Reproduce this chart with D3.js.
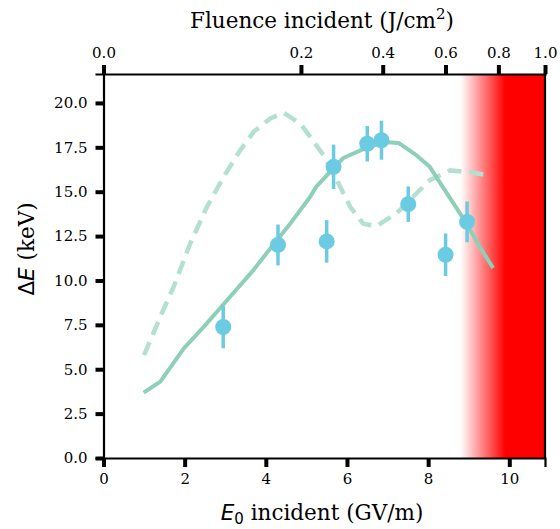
<!DOCTYPE html>
<html>
<head>
<meta charset="utf-8">
<script src="https://cdn.jsdelivr.net/npm/d3@7"></script>
<style>
  html, body { margin: 0; padding: 0; background: #fff; }
  text { font-family: "DejaVu Serif", serif; }
</style>
</head>
<body>
<div id="chart"></div>
<script>
// measured points (E0 in GV/m, deltaE in keV, error in keV)
const measE = [2.95, 4.30, 5.50, 5.67, 6.50, 6.85, 7.51, 8.43, 8.96];
const measDE = [7.38, 12.0, 12.2, 16.4, 17.7, 17.9, 14.3, 11.45, 13.3];
const measErr = [1.2, 1.15, 1.2, 1.25, 1.0, 1.1, 1.0, 1.2, 1.15];

// simulation, solid curve
const simE = [0.99, 1.40, 1.98, 2.47, 3.12, 3.70, 4.11, 4.60, 5.09, 5.25, 5.91, 6.40, 6.90, 7.27, 7.71, 8.04, 8.25, 8.95, 9.27, 9.60];
const simDE = [3.68, 4.30, 6.17, 7.39, 9.08, 10.6, 11.8, 13.2, 14.7, 15.3, 16.9, 17.4, 17.8, 17.75, 17.06, 16.4, 15.65, 13.2, 11.9, 10.7];

// second simulation, dashed curve
const dashE = [1.00, 1.40, 1.73, 2.14, 2.55, 2.96, 3.37, 3.70, 4.11, 4.44, 4.85, 5.09, 5.42, 5.75, 6.08, 6.40, 6.73, 7.22, 7.71, 8.04, 8.54, 9.03, 9.52];
const dashDE = [5.8, 7.96, 9.65, 12.1, 14.15, 15.84, 17.34, 18.37, 19.13, 19.44, 18.84, 18.1, 17.06, 15.65, 14.15, 13.2, 13.06, 13.78, 14.9, 15.65, 16.2, 16.1, 15.9];

const xTicks = [0, 2, 4, 6, 8, 10];
const yTicks = [0, 2.5, 5, 7.5, 10, 12.5, 15, 17.5, 20];
const fluenceTicks = [0, 0.2, 0.4, 0.6, 0.8, 1.0];
const redStart = 8.8, redFull = 9.9;

const width = 560, height = 529;
const margin = { left: 103.5, right: 15, top: 74, bottom: 71 };
const xMax = 10.88, yMax = 21.63;

const x = d3.scaleLinear().domain([0, xMax]).range([margin.left, width - margin.right]);
const y = d3.scaleLinear().domain([0, yMax]).range([height - margin.bottom, margin.top]);
// fluence goes as E0 squared, so the top axis is a square root scale
const xTop = d3.scalePow().exponent(0.5).domain([0, 1]).range([margin.left, width - margin.right]);

const svg = d3.select("#chart").append("svg")
  .attr("width", width).attr("height", height);

const defs = svg.append("defs");
const grad = defs.append("linearGradient")
  .attr("id", "redfade")
  .attr("gradientUnits", "userSpaceOnUse")
  .attr("x1", x(redStart)).attr("x2", x(redFull))
  .attr("y1", 0).attr("y2", 0);
grad.append("stop").attr("offset", "0%").attr("stop-color", "#ff0000").attr("stop-opacity", 0);
grad.append("stop").attr("offset", "100%").attr("stop-color", "#ff0000").attr("stop-opacity", 1);

svg.append("rect")
  .attr("x", x(redStart)).attr("y", y(yMax))
  .attr("width", x(xMax) - x(redStart))
  .attr("height", y(0) - y(yMax))
  .attr("fill", "url(#redfade)");

const line = d3.line().x(d => x(d[0])).y(d => y(d[1]));

svg.append("path")
  .datum(dashE.map((e, i) => [e, dashDE[i]]))
  .attr("d", line)
  .attr("fill", "none")
  .attr("stroke", "#b4e0d2")
  .attr("stroke-width", 4.5)
  .attr("stroke-dasharray", "14,8");

svg.append("path")
  .datum(simE.map((e, i) => [e, simDE[i]]))
  .attr("d", line)
  .attr("fill", "none")
  .attr("stroke", "#8ecfb8")
  .attr("stroke-width", 4)
  .attr("stroke-linejoin", "round");

const pts = svg.append("g")
  .selectAll("g")
  .data(measE.map((e, i) => ({ e, de: measDE[i], err: measErr[i] })))
  .join("g");

pts.append("line")
  .attr("x1", d => x(d.e)).attr("x2", d => x(d.e))
  .attr("y1", d => y(d.de - d.err)).attr("y2", d => y(d.de + d.err))
  .attr("stroke", "#6bcbe3").attr("stroke-width", 3.5);

pts.append("circle")
  .attr("cx", d => x(d.e)).attr("cy", d => y(d.de))
  .attr("r", 8)
  .attr("fill", "#6bcbe3");

// axes
const fmt1 = d3.format(".1f");

const axB = svg.append("g")
  .attr("transform", `translate(0,${y(0)})`)
  .call(d3.axisBottom(x).tickValues(xTicks).tickSize(9).tickPadding(6).tickFormat(d3.format("d")));
const axL = svg.append("g")
  .attr("transform", `translate(${x(0)},0)`)
  .call(d3.axisLeft(y).tickValues(yTicks).tickSize(8).tickPadding(8).tickFormat(fmt1));
const axT = svg.append("g")
  .attr("transform", `translate(0,${y(yMax)})`)
  .call(d3.axisTop(xTop).tickValues(fluenceTicks).tickSize(9).tickPadding(7).tickFormat(fmt1));

[axB, axL, axT].forEach(a => {
  a.select(".domain").attr("stroke", "#000").attr("stroke-width", 2.2);
  a.selectAll(".tick line").attr("stroke", "#000").attr("stroke-width", 4);
  a.selectAll(".tick text").attr("font-family", "DejaVu Serif").attr("font-size", 15).attr("fill", "#000");
});

// right spine
svg.append("line")
  .attr("x1", x(xMax)).attr("x2", x(xMax))
  .attr("y1", y(0)).attr("y2", y(yMax))
  .attr("stroke", "#000").attr("stroke-width", 2.2);

// titles
svg.append("text")
  .attr("x", 322).attr("y", 28)
  .attr("text-anchor", "middle")
  .attr("font-size", 21.5)
  .html('Fluence incident (J/cm<tspan dy="-9" font-size="15">2</tspan><tspan dy="9">)</tspan>');

const xl = svg.append("text")
  .attr("x", 322).attr("y", 520)
  .attr("text-anchor", "middle")
  .attr("font-size", 21.5);
xl.append("tspan").attr("font-family", "DejaVu Sans").attr("font-style", "italic").text("E");
xl.append("tspan").attr("font-family", "DejaVu Sans").attr("font-size", 15).attr("dy", 4).text("0");
xl.append("tspan").attr("dy", -4).text(" incident (GV/m)");

const yl = svg.append("text")
  .attr("transform", `translate(34,249) rotate(-90)`)
  .attr("text-anchor", "middle")
  .attr("font-size", 21.5);
yl.append("tspan").attr("font-family", "DejaVu Sans").text("Δ");
yl.append("tspan").attr("font-family", "DejaVu Sans").attr("font-style", "italic").text("E");
yl.append("tspan").text(" (keV)");
</script>
</body>
</html>
